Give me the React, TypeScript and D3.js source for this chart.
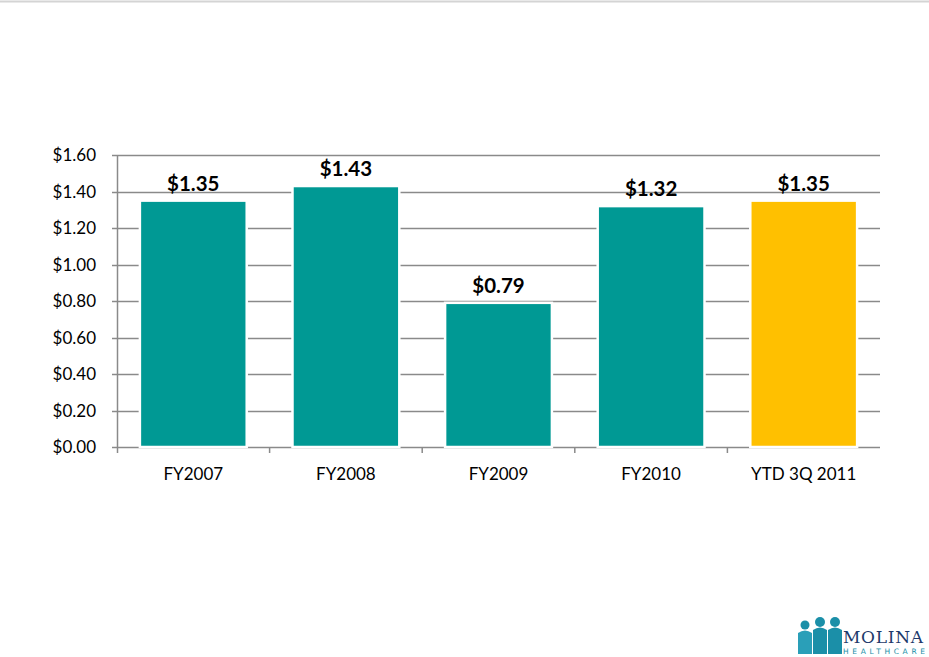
import { useEffect, useRef } from 'react';
import * as d3 from 'd3';

const W = 929;
const H = 657;
const [mt, mr, mb, ml] = [155, 49, 210, 117];

const categories = ['FY2007', 'FY2008', 'FY2009', 'FY2010', 'YTD 3Q 2011'];
const values = [1.35, 1.43, 0.79, 1.32, 1.35];
const valueLabels = ['$1.35', '$1.43', '$0.79', '$1.32', '$1.35'];
const barColors = ['#009994', '#009994', '#009994', '#009994', '#FFC000'];
const yTicks = [0, 0.2, 0.4, 0.6, 0.8, 1.0, 1.2, 1.4, 1.6];

const font = 'Lato, "Open Sans", sans-serif';

export default function App() {
    const ref = useRef<SVGSVGElement>(null);

    useEffect(() => {
        const svg = d3.select(ref.current);
        svg.selectAll('*').remove();

        const x = d3
            .scaleBand<string>()
            .domain(categories)
            .range([ml, W - mr])
            .paddingInner(0.3)
            .paddingOuter(0.15);
        const y = d3.scaleLinear().domain([0, 1.6]).range([H - mb, mt]);

        // top rule
        svg.append('line').attr('x1', 0).attr('x2', W).attr('y1', 1.5).attr('y2', 1.5).attr('stroke', '#d4d4d4').attr('stroke-width', 2);

        // gridlines
        svg.append('g')
            .selectAll('line')
            .data(yTicks)
            .join('line')
            .attr('x1', ml - 5)
            .attr('x2', W - mr)
            .attr('y1', (d) => Math.round(y(d)) + 0.5)
            .attr('y2', (d) => Math.round(y(d)) + 0.5)
            .attr('stroke', '#8a8a8a')
            .attr('stroke-width', 1.5);

        // y axis line
        svg.append('line')
            .attr('x1', ml + 0.5)
            .attr('x2', ml + 0.5)
            .attr('y1', y(1.6))
            .attr('y2', y(0) + 6)
            .attr('stroke', '#8a8a8a')
            .attr('stroke-width', 1.5);

        // x ticks at band boundaries
        const bounds = categories.map((c) => (x(c) ?? 0) - (x.step() * x.paddingInner()) / 2).slice(1);
        svg.append('g')
            .selectAll('line')
            .data(bounds)
            .join('line')
            .attr('x1', (d) => d)
            .attr('x2', (d) => d)
            .attr('y1', y(0))
            .attr('y2', y(0) + 6)
            .attr('stroke', '#8a8a8a')
            .attr('stroke-width', 1.5);

        // bars
        svg.append('g')
            .selectAll('rect')
            .data(values)
            .join('rect')
            .attr('x', (_d, i) => x(categories[i]) ?? 0)
            .attr('y', (d) => y(d))
            .attr('width', x.bandwidth())
            .attr('height', (d) => y(0) - y(d))
            .attr('fill', (_d, i) => barColors[i])
            .attr('stroke', '#ffffff')
            .attr('stroke-width', 2.5);

        // value labels
        svg.append('g')
            .selectAll('text')
            .data(values)
            .join('text')
            .attr('x', (_d, i) => (x(categories[i]) ?? 0) + x.bandwidth() / 2)
            .attr('y', (d) => y(d) - 10)
            .attr('text-anchor', 'middle')
            .attr('font-family', font)
            .attr('font-weight', 'bold')
            .attr('font-size', 20.5)
            .attr('fill', '#000000')
            .text((_d, i) => valueLabels[i]);

        // y tick labels
        svg.append('g')
            .selectAll('text')
            .data(yTicks)
            .join('text')
            .attr('x', 96)
            .attr('y', (d) => y(d))
            .attr('dy', '0.36em')
            .attr('text-anchor', 'end')
            .attr('font-family', font)
            .attr('font-size', 17)
            .attr('fill', '#000000')
            .text((d) => `$${d.toFixed(2)}`);

        // x tick labels
        svg.append('g')
            .selectAll('text')
            .data(categories)
            .join('text')
            .attr('x', (d) => (x(d) ?? 0) + x.bandwidth() / 2)
            .attr('y', y(0) + 33)
            .attr('text-anchor', 'middle')
            .attr('font-family', font)
            .attr('font-size', 17)
            .attr('fill', '#000000')
            .text((d) => d);

        // logo
        const logo = svg.append('g').attr('transform', 'translate(796, 618)');
        const people = [
            { cx: 9, r: 4.5, top: 13 },
            { cx: 24, r: 5, top: 10 },
            { cx: 39, r: 5, top: 10 }
        ];
        people.forEach((p, i) => {
            logo.append('circle').attr('cx', p.cx).attr('cy', p.top - 6).attr('r', p.r).attr('fill', '#1b8fa8');
            logo.append('path')
                .attr('d', `M${p.cx - 7},${p.top + 2} Q${p.cx},${p.top - 3} ${p.cx + 7},${p.top + 2} L${p.cx + 7},36 L${p.cx - 7},36 Z`)
                .attr('fill', i === 0 ? '#2a9fb8' : '#1b8fa8');
        });
        logo.append('text')
            .attr('x', 47)
            .attr('y', 25)
            .attr('font-family', '"DejaVu Serif", serif')
            .attr('font-size', 17)
            .attr('textLength', 80)
            .attr('fill', '#1d3a6b')
            .text('MOLINA');
        logo.append('text')
            .attr('x', 47)
            .attr('y', 36)
            .attr('font-family', '"DejaVu Sans", sans-serif')
            .attr('font-size', 7.5)
            .attr('textLength', 82)
            .attr('fill', '#1b8fa8')
            .text('HEALTHCARE');
    }, []);

    return (
        <div style={{ position: 'absolute', left: 0, top: 0, width: W, height: H, background: '#ffffff' }}>
            <svg ref={ref} width={W} height={H} />
        </div>
    );
}
